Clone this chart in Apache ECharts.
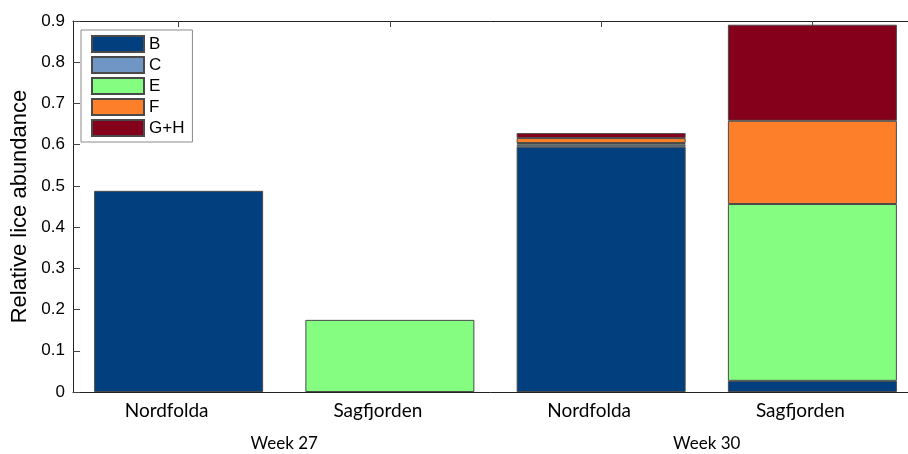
<!DOCTYPE html>
<html>
<head>
<meta charset="utf-8">
<script src="https://cdn.jsdelivr.net/npm/echarts@6/dist/echarts.min.js"></script>
<style>
html,body{margin:0;padding:0;background:#fff;}
#chart{width:908px;height:454px;}
</style>
</head>
<body>
<div id="chart"></div>
<script>
var sites = ['Nordfolda', 'Sagfjorden', 'Nordfolda', 'Sagfjorden'];
var weeks = ['Week 27', 'Week 30'];
var yTicks = [0, 0.1, 0.2, 0.3, 0.4, 0.5, 0.6, 0.7, 0.8, 0.9];
var stageNames = ['B', 'C', 'E', 'F', 'G+H'];
var valB  = [0.488, null, 0.595, 0.027];
var valC  = [null, null, 0.005, null];
var valE  = [null, 0.175, 0.004, 0.429];
var valF  = [null, null, 0.012, 0.202];
var valGH = [null, null, 0.012, 0.233];
var stageColors = ['#013f7f', '#7096c5', '#84fd80', '#fd7f2a', '#85001a'];
var stageValues = [valB, valC, valE, valF, valGH];

var chart = echarts.init(document.getElementById('chart'), null, {renderer: 'canvas'});

var series = stageNames.map(function (n, i) {
  return {
    name: n,
    type: 'bar',
    stack: 'total',
    xAxisIndex: 0,
    yAxisIndex: 0,
    barWidth: '80%',
    data: stageValues[i],
    itemStyle: {color: stageColors[i], borderColor: '#4a4a4a', borderWidth: 1},
    emphasis: {disabled: true}
  };
});

chart.setOption({
  animation: false,
  backgroundColor: '#fff',
  grid: {left: 73, top: 21, width: 845, height: 371, outerBoundsMode: 'none', containLabel: false},
  legend: {
    orient: 'vertical',
    left: 81,
    top: 30,
    icon: 'rect',
    itemWidth: 52,
    itemHeight: 16,
    itemGap: 3,
    padding: [5, 8, 5, 10],
    backgroundColor: '#fff',
    borderColor: '#8a8a8a',
    borderWidth: 1,
    textStyle: {fontFamily: 'Liberation Sans', fontSize: 17, lineHeight: 16, color: '#000'},
    data: stageNames
  },
  xAxis: [
    {
      type: 'category',
      data: sites,
      position: 'bottom',
      axisLine: {lineStyle: {color: '#222', width: 1}},
      axisTick: {show: false},
      axisLabel: {color: '#000', fontFamily: 'Lato', fontSize: 19, margin: 9, padding: [0, 24, 0, 0]}
    },
    {
      type: 'category',
      data: weeks,
      position: 'bottom',
      axisLine: {show: false},
      axisTick: {show: false},
      axisLabel: {color: '#000', fontFamily: 'Lato', fontSize: 17, margin: 43}
    },
    {
      type: 'category',
      data: sites,
      position: 'top',
      axisLine: {lineStyle: {color: '#222', width: 1}},
      axisTick: {show: true, inside: true, alignWithLabel: true, length: 6, lineStyle: {color: '#444'}},
      axisLabel: {show: false}
    }
  ],
  yAxis: {
    type: 'value',
    min: yTicks[0],
    max: yTicks[yTicks.length - 1],
    interval: 0.1,
    name: 'Relative lice abundance',
    nameLocation: 'middle',
    nameGap: 38,
    nameTextStyle: {fontFamily: 'Liberation Sans', fontSize: 22, color: '#000'},
    axisLine: {show: true, lineStyle: {color: '#222', width: 1}},
    axisTick: {show: true, inside: true, length: 7, lineStyle: {color: '#444'}},
    splitLine: {show: false},
    axisLabel: {
      color: '#000', fontFamily: 'Liberation Sans', fontSize: 17, margin: 8,
      formatter: function (v) { return String(Math.round(v * 10) / 10); }
    }
  },
  series: series
});
</script>
</body>
</html>
